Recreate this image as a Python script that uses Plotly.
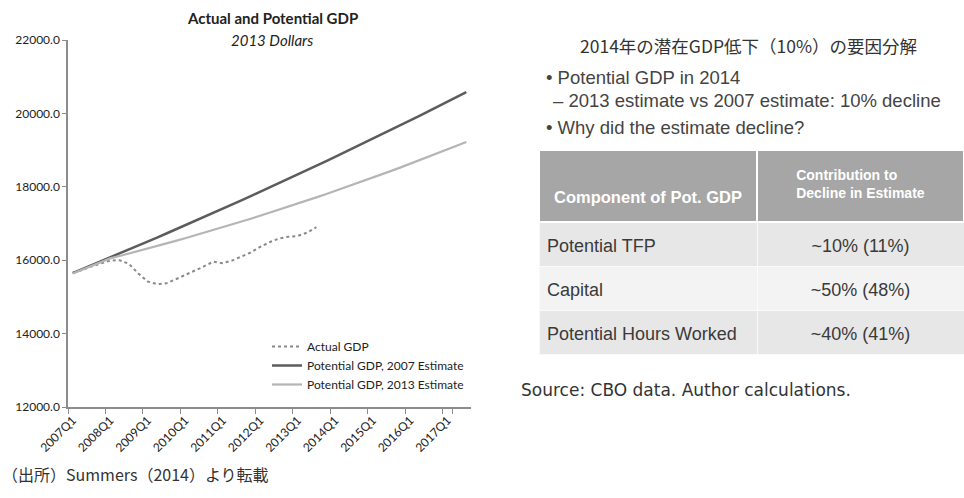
import plotly.graph_objects as go

W, H = 964, 498

# ---------------- data ----------------
quarters = [f"{y}Q{q}" for y in range(2007, 2018) for q in range(1, 5)][:43]  # 2007Q1 .. 2017Q3
tick_quarters = [f"{y}Q1" for y in range(2007, 2018)]

actual_gdp = [15660, 15730, 15830, 15900, 15990, 16000, 15900, 15640, 15420, 15350,
              15370, 15480, 15590, 15700, 15830, 15960, 15920, 15990, 16090, 16210,
              16360, 16490, 16590, 16640, 16660, 16750, 16900]

potential_2007 = [15650, 15755, 15861, 15967, 16074, 16181, 16289, 16398, 16507, 16617,
                  16727, 16838, 16950, 17062, 17175, 17288, 17402, 17517, 17632, 17748,
                  17864, 17981, 18099, 18217, 18336, 18455, 18575, 18696, 18817, 18939,
                  19061, 19184, 19308, 19432, 19557, 19682, 19808, 19935, 20062, 20190,
                  20318, 20447, 20577]

potential_2013 = [15640, 15740, 15845, 15948, 16050, 16115, 16181, 16248, 16316, 16385,
                  16455, 16526, 16598, 16671, 16745, 16820, 16896, 16973, 17051, 17130,
                  17210, 17291, 17373, 17456, 17540, 17625, 17711, 17798, 17886, 17975,
                  18065, 18156, 18248, 18341, 18435, 18530, 18626, 18723, 18821, 18920,
                  19020, 19121, 19223]

y_ticks = [12000, 14000, 16000, 18000, 20000, 22000]

components = ["Potential TFP", "Capital", "Potential Hours Worked"]
contributions = ["~10% (11%)", "~50% (48%)", "~40% (41%)"]
table_header = ["\u00a0<br><b>Component of Pot. GDP</b>", "<b>Contribution to<br>Decline in Estimate</b>"]


def px(x):
    return x / W


def py(y):
    return 1 - y / H


fig = go.Figure()

fig.add_trace(go.Scatter(
    x=quarters[:len(actual_gdp)], y=actual_gdp, mode="lines", name="Actual GDP",
    line=dict(color="#8a8a8a", width=2, dash="dot")))
fig.add_trace(go.Scatter(
    x=quarters, y=potential_2007, mode="lines", name="Potential GDP, 2007 Estimate",
    line=dict(color="#5c5c5c", width=2.5)))
fig.add_trace(go.Scatter(
    x=quarters, y=potential_2013, mode="lines", name="Potential GDP, 2013 Estimate",
    line=dict(color="#b5b5b5", width=2.2)))

col_w = [218, 207]
head_font = dict(family="Liberation Sans", size=[16.5, 14])
cell_font = dict(family="Liberation Sans", size=18)
blank_cells = [["" for _ in components], ["" for _ in contributions]]
# table backgrounds (cells of the table; text drawn by the overlay below)
fig.add_trace(go.Table(
    domain=dict(x=[px(539), 1.0], y=[py(356), py(150)]),
    columnwidth=col_w,
    header=dict(values=["", ""], fill_color="#a6a6a6",
                align="center", height=72, line=dict(color="white", width=1.5)),
    cells=dict(values=blank_cells,
               fill_color=[["#e7e7e7", "#f3f3f3", "#e7e7e7"]] * 2,
               align=["left", "center"], height=44,
               line=dict(color="#fafafa", width=1))
))
# table text, vertically centred in the cells
fig.add_trace(go.Table(
    domain=dict(x=[px(539), 1.0], y=[py(364.5), py(158.5)]),
    columnwidth=col_w,
    header=dict(values=table_header, fill_color="rgba(0,0,0,0)",
                font=dict(**head_font, color="white"),
                align="center", height=72, line=dict(color="rgba(0,0,0,0)", width=0)),
    cells=dict(values=[components, contributions],
               fill_color="rgba(0,0,0,0)",
               font=dict(**cell_font, color="#3a3a3a"),
               align=["left", "center"], height=44,
               line=dict(color="rgba(0,0,0,0)", width=0))
))

axis_font = dict(family="Lato", size=12, color="#222222")

fig.update_layout(
    width=W, height=H,
    margin=dict(l=0, r=0, t=0, b=0),
    paper_bgcolor="white", plot_bgcolor="white",
    showlegend=True,
    legend=dict(x=px(267), y=py(332), xanchor="left", yanchor="top",
                font=dict(family="Lato", size=12, color="#222222"),
                bgcolor="rgba(0,0,0,0)", tracegroupgap=0),
    xaxis=dict(domain=[px(68), px(471)], type="category", categoryorder="array",
               categoryarray=quarters, range=[-0.5, 42.5], automargin=False,
               tickmode="array", tickvals=tick_quarters, ticktext=tick_quarters,
               tickson="boundaries", ticks="outside", ticklen=5, tickcolor="#8c8c8c",
               showline=True, linecolor="#8c8c8c", linewidth=1.5,
               tickangle=-45, tickfont=axis_font, showgrid=False, zeroline=False),
    yaxis=dict(domain=[py(407), py(40)], range=[12000, 22000], automargin=False,
               tickmode="array", tickvals=y_ticks, tickformat=".1f",
               ticks="outside", ticklen=4, tickcolor="#8c8c8c",
               showline=True, linecolor="#8c8c8c", linewidth=1.5,
               tickfont=axis_font, showgrid=False, zeroline=False),
)

ann = []
ann.append(dict(x=px(272), y=py(18), text="<b>Actual and Potential GDP</b>",
                font=dict(family="Lato", size=15, color="#222222")))
ann.append(dict(x=px(272), y=py(40), text="<i>2013 Dollars</i>",
                font=dict(family="Lato", size=15, color="#222222")))
ann.append(dict(x=px(748), y=py(45), text="2014年の潜在GDP低下（10%）の要因分解",
                font=dict(family="Noto Sans CJK JP", size=17.5, color="#333333")))
right_font = dict(family="Liberation Sans", size=18.5, color="#444444")
ann.append(dict(x=px(544), y=py(77), text="• Potential GDP in 2014", xanchor="left", font=right_font))
ann.append(dict(x=px(551), y=py(100), text="– 2013 estimate vs 2007 estimate: 10% decline",
                xanchor="left", font=right_font))
ann.append(dict(x=px(544), y=py(127), text="• Why did the estimate decline?", xanchor="left", font=right_font))
ann.append(dict(x=px(519), y=py(390), text="Source: CBO data. Author calculations.", xanchor="left",
                font=dict(family="DejaVu Sans", size=17, color="#333333")))
ann.append(dict(x=px(0), y=py(474), text="（出所）Summers（2014）より転載", xanchor="left",
                font=dict(family="Noto Sans CJK JP", size=16, color="#333333")))
for a in ann:
    a.update(xref="paper", yref="paper", showarrow=False)
    a.setdefault("xanchor", "center")
    a["yanchor"] = "middle"
fig.update_layout(annotations=ann)

fig.write_html("out.html", config={"displayModeBar": False},
               post_script="document.body.style.margin='0px';")
